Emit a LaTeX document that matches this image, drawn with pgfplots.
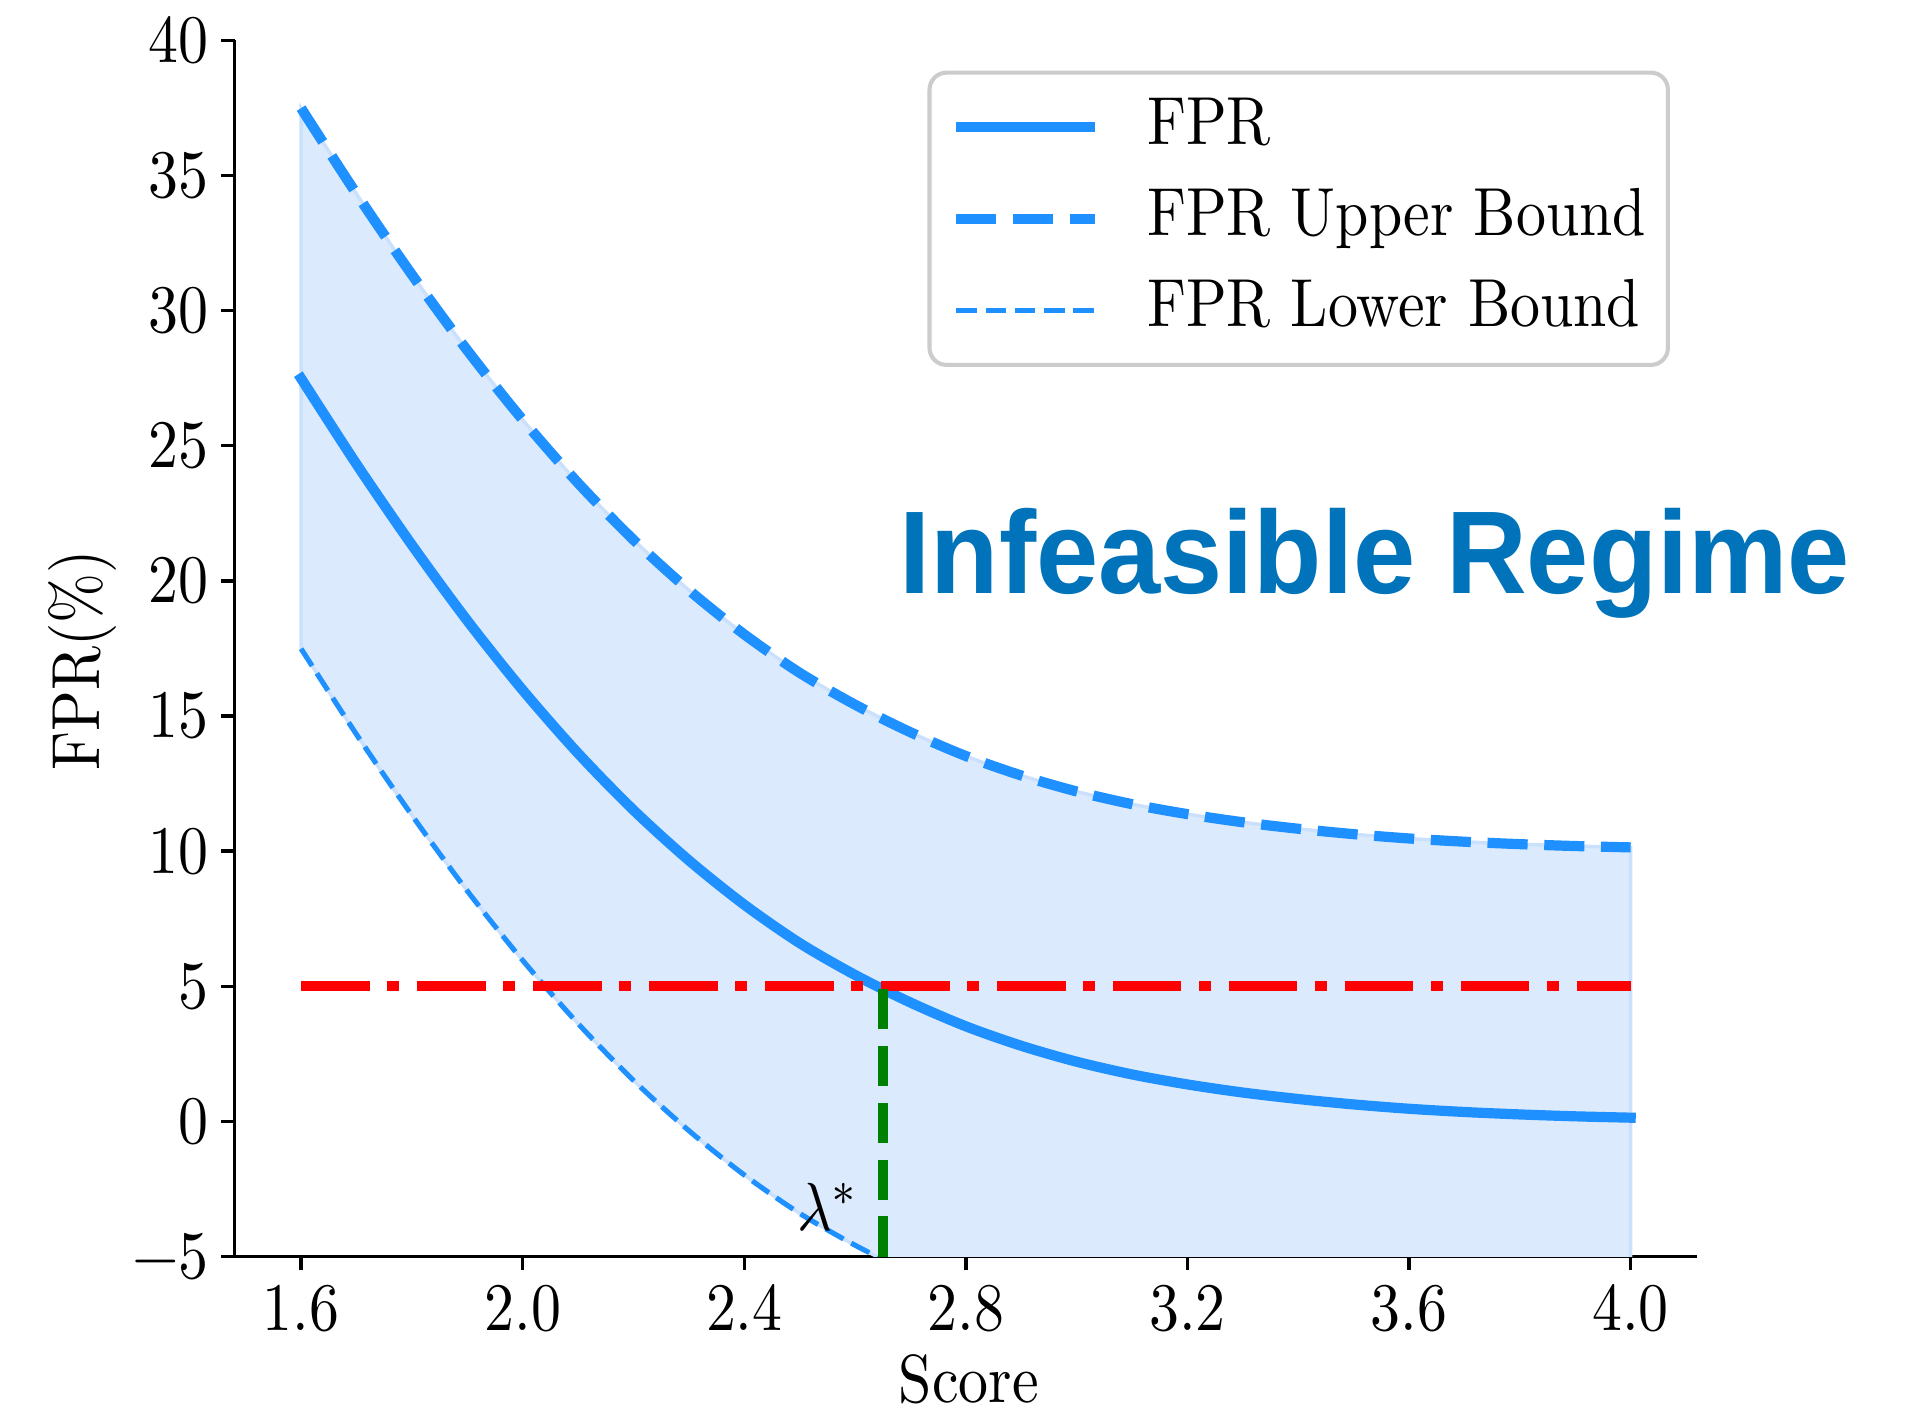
\documentclass[border=0pt]{standalone}
\usepackage{fontspec}
\setmainfont{Latin Modern Roman}[FakeStretch=0.88]
\newfontfamily\regimefont{Liberation Sans}[FakeStretch=0.95]
\usepackage{pgfplots}
\pgfplotsset{compat=1.18}
\usepgfplotslibrary{fillbetween}
\usepackage{pgfplotstable}
\definecolor{fprblue}{RGB}{30,144,255}
\definecolor{fillblue}{RGB}{220,234,253}
\definecolor{filledge}{RGB}{202,224,252}
\definecolor{regime}{RGB}{0,115,186}
\definecolor{dkgreen}{RGB}{0,128,0}
\definecolor{legframe}{RGB}{204,204,204}

\pgfplotstableread{
x    fpr    up     lo
1.6  27.49  37.49  17.49
1.7  24.32  34.32  14.32
1.8  21.33  31.33  11.33
1.9  18.53  28.53  8.53
2.0  15.96  25.96  5.96
2.1  13.62  23.62  3.62
2.2  11.52  21.52  1.52
2.3  9.66   19.66  -0.34
2.4  8.02   18.02  -1.98
2.5  6.60   16.60  -3.40
2.6  5.42   15.42  -4.58
2.7  4.40   14.40  -5.60
2.8  3.52   13.52  -6.48
2.9  2.80   12.80  -7.20
3.0  2.21   12.21  -7.79
3.1  1.74   11.74  -8.26
3.2  1.37   11.37  -8.63
3.3  1.07   11.07  -8.93
3.4  0.83   10.83  -9.17
3.5  0.63   10.63  -9.37
3.6  0.47   10.47  -9.53
3.7  0.35   10.35  -9.65
3.8  0.26   10.26  -9.74
3.9  0.19   10.19  -9.81
4.0  0.14   10.14  -9.86
}\fprtable

\begin{document}
\begin{tikzpicture}
\begin{axis}[
  scale only axis,
  width=215.05pt, height=178.85pt,
  xmin=1.48, xmax=4.12, ymin=-5, ymax=40,
  axis lines*=left,
  axis line style={line width=0.5pt, black, -},
  xtick={1.6,2.0,2.4,2.8,3.2,3.6,4.0},
  xticklabels={1.6,2.0,2.4,2.8,3.2,3.6,4.0},
  ytick={-5,0,5,10,15,20,25,30,35,40},
  yticklabels={−5,0,5,10,15,20,25,30,35,40},
  tick align=outside,
  major tick length=1.96pt,
  tick style={line width=0.5pt, black},
  xticklabel style={anchor=north, inner sep=0pt, yshift=-2.0pt},
  yticklabel style={anchor=east, inner sep=0pt, xshift=-1.65pt},
  xlabel={Score},
  ylabel={FPR(\%)},
  xlabel style={at={(axis description cs:0.502,0)}, anchor=base, yshift=-21.4pt, inner sep=0pt},
  ylabel style={at={(axis description cs:-0.0921,0.49)}, anchor=base, inner sep=0pt},
  legend style={
    at={(1,1)}, anchor=north east, xshift=-4pt, yshift=-4.45pt,
    draw=legframe, line width=0.6pt, rounded corners=2.5pt, fill=white,
    inner xsep=3.2pt, inner ysep=3.6pt,
    row sep=4.54pt, column sep=6.9pt,
    nodes={inner sep=0pt, text height=6.9pt, text depth=2pt},
  },
  legend cell align=left,
  legend image code/.code={\draw[#1, line cap=butt] (0pt,0pt) -- (20.4pt,0pt);},
]
\addplot[name path=fprl, fprblue, line width=1.5pt, smooth, line cap=rect] table[x=x, y=fpr]{\fprtable};
\addlegendentry{FPR}
\addplot[name path=upper, fprblue, line width=1.5pt, smooth, dash pattern=on 5.9pt off 2.45pt] table[x=x, y=up]{\fprtable};
\addlegendentry{FPR Upper Bound}
\addplot[name path=lower, fprblue, line width=0.75pt, smooth, dash pattern=on 3pt off 1.3pt] table[x=x, y=lo]{\fprtable};
\addlegendentry{FPR Lower Bound}
\addplot[fill=fillblue, draw=filledge, line width=0.5pt, forget plot] fill between[of=upper and lower];
\addplot[red, line width=1.5pt, dash pattern=on 10.1pt off 2.6pt on 1.75pt off 2.6pt, forget plot] coordinates {(1.6,5) (4.0,5)};
\addplot[dkgreen, line width=1.5pt, dash pattern=on 5.9pt off 2.45pt, forget plot] coordinates {(2.65,-5) (2.65,5)};
\end{axis}
\pgfresetboundingbox
\useasboundingbox (-34.5pt,-22.58pt) rectangle (246.5pt,184.77pt);
\node[anchor=base west, inner sep=0pt] at (82.5pt,3.9pt) {\scalebox{0.88}[1]{$\lambda^*$}};
\node[anchor=base west, inner sep=0pt, text=regime, font=\regimefont\bfseries\fontsize{17.3}{20}\selectfont] at (97.6pt,97.5pt) {Infeasible Regime};
\end{tikzpicture}
\end{document}
